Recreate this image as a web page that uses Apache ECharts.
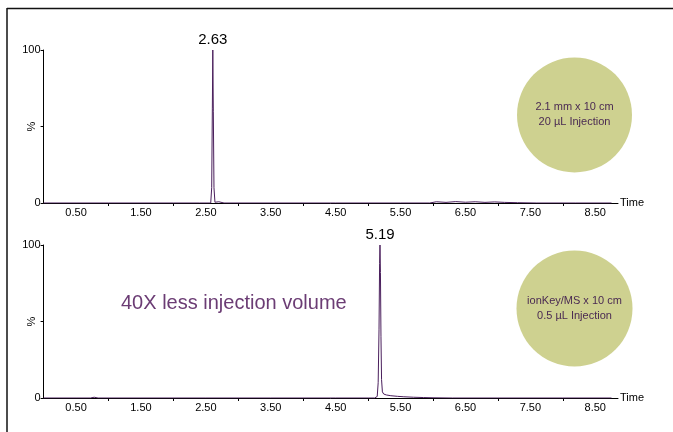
<!DOCTYPE html>
<html><head><meta charset="utf-8">
<script src="https://cdn.jsdelivr.net/npm/echarts@6/dist/echarts.min.js"></script>
<style>html,body{margin:0;padding:0;background:#fff}#c{width:673px;height:432px}</style>
</head><body><div id="c"></div>
<script>
// Top trace: 2.1 mm x 10 cm, 20 µL injection  [time, %]
const topTime = [0, 0.5, 1.0, 1.5, 2.0, 2.4, 2.575, 2.59, 2.60, 2.607, 2.615, 2.625, 2.64, 2.67, 2.70, 2.73, 2.78, 3.5, 4.5, 5.5, 5.95, 6.05, 6.2, 6.35, 6.5, 6.65, 6.8, 6.95, 7.1, 7.3, 7.6, 8.2, 8.75];
const topPct  = [0, 0, 0, 0, 0, 0, 0, 10, 62, 100, 60, 10, 0.5, 0.3, 0.8, 0.3, 0, 0, 0, 0, 0, 0.8, 0.4, 0.9, 0.5, 0.8, 0.4, 0.7, 0.4, 0.2, 0, 0, 0];
// Bottom trace: ionKey/MS x 10 cm, 0.5 µL injection
const botTime = [0, 0.5, 0.72, 0.78, 0.84, 1.5, 2.5, 3.5, 4.5, 5.0, 5.10, 5.14, 5.155, 5.168, 5.177, 5.183, 5.19, 5.198, 5.207, 5.22, 5.24, 5.28, 5.35, 5.45, 5.55, 5.7, 5.85, 6.0, 6.3, 7.0, 8.0, 8.75];
const botPct  = [0, 0, 0, 0.5, 0, 0, 0, 0, 0, 0, 0, 1, 10, 45, 88, 100, 82, 40, 12, 4, 2.6, 2, 1.5, 1.1, 0.8, 0.5, 0.3, 0.15, 0, 0, 0, 0];
const peakLabels = ['2.63', '5.19'];
const panelCaptions = [['2.1 mm x 10 cm', '20 µL Injection'], ['ionKey/MS x 10 cm', '0.5 µL Injection']];
const noteText = '40X less injection volume';
const xLabelValues = [0.5, 1.5, 2.5, 3.5, 4.5, 5.5, 6.5, 7.5, 8.5];
const xTickValues = [1, 2, 3, 4, 5, 6, 7, 8];
const yTickValues = [0, 50, 100];

const traceColor = '#4a1f5c';
const font = 'Liberation Sans, Arial, sans-serif';

function makeData(t, v, labelText) {
  let peakIdx = v.indexOf(Math.max(...v));
  return t.map((x, i) => {
    if (i === peakIdx) {
      return { value: [x, v[i]], label: { show: true, formatter: labelText, position: 'top', distance: 3,
        fontSize: 15, color: '#000', fontFamily: font } };
    }
    return [x, v[i]];
  });
}

const grids = [
  { left: 43.6, right: 55, top: 50, height: 153, outerBoundsMode: 'none', containLabel: false },
  { left: 43.6, right: 55, top: 245, height: 153, outerBoundsMode: 'none', containLabel: false }
];
function xAxis(i) {
  return {
    type: 'value', gridIndex: i, min: 0, max: 8.85,
    name: 'Time', nameLocation: 'end', nameGap: 2, nameMoveOverlap: false,
    nameTextStyle: { fontSize: 11, color: '#000', fontFamily: font, verticalAlign: 'middle' },
    axisLine: { show: true, lineStyle: { color: '#000', width: 1 } },
    axisTick: { show: true, customValues: xTickValues, length: 3, lineStyle: { color: '#000' } },
    axisLabel: { show: true, customValues: xLabelValues, margin: 4, fontSize: 11, color: '#000', fontFamily: font,
      formatter: v => v.toFixed(2) },
    splitLine: { show: false }
  };
}
function yAxis(i) {
  return {
    type: 'value', gridIndex: i, min: 0, max: 100,
    name: '%', nameLocation: 'middle', nameGap: 6, nameMoveOverlap: false,
    nameTextStyle: { fontSize: 11, color: '#000', fontFamily: font },
    axisLine: { show: true, lineStyle: { color: '#000', width: 1 } },
    axisTick: { show: true, customValues: yTickValues, length: 3, lineStyle: { color: '#000' } },
    axisLabel: { show: true, customValues: [0, 100], margin: 3, fontSize: 11, color: '#000', fontFamily: font },
    splitLine: { show: false }
  };
}

const circleColor = '#ced190';
const captionColor = '#4a2a52';
function circleGroup(cx, cy, r, lines) {
  return [
    { type: 'circle', shape: { cx: cx, cy: cy, r: r }, style: { fill: circleColor }, z: 1 },
    { type: 'text', x: cx, y: cy - 8, style: { text: lines[0], fill: captionColor, font: '11px ' + font, textAlign: 'center', textVerticalAlign: 'middle' }, z: 2 },
    { type: 'text', x: cx, y: cy + 7, style: { text: lines[1], fill: captionColor, font: '11px ' + font, textAlign: 'center', textVerticalAlign: 'middle' }, z: 2 }
  ];
}

const chart = echarts.init(document.getElementById('c'), null, { renderer: 'canvas' });
chart.setOption({
  animation: false,
  backgroundColor: '#fff',
  grid: grids,
  xAxis: [xAxis(0), xAxis(1)],
  yAxis: [yAxis(0), yAxis(1)],
  series: [
    { type: 'line', xAxisIndex: 0, yAxisIndex: 0, data: makeData(topTime, topPct, peakLabels[0]), showSymbol: true, showAllSymbol: true,
      symbol: 'circle', symbolSize: 0.01, itemStyle: { color: traceColor }, labelLayout: { hideOverlap: false },
      lineStyle: { color: traceColor, width: 1 }, z: 3 },
    { type: 'line', xAxisIndex: 1, yAxisIndex: 1, data: makeData(botTime, botPct, peakLabels[1]), showSymbol: true, showAllSymbol: true,
      symbol: 'circle', symbolSize: 0.01, itemStyle: { color: traceColor }, labelLayout: { hideOverlap: false },
      lineStyle: { color: traceColor, width: 1 }, z: 3 }
  ],
  graphic: [
    { type: 'line', shape: { x1: 7, y1: 8.5, x2: 673, y2: 8.5 }, style: { stroke: '#111', lineWidth: 1.5 } },
    { type: 'line', shape: { x1: 7, y1: 8, x2: 7, y2: 432 }, style: { stroke: '#111', lineWidth: 1.5 } },
    ...circleGroup(574.5, 115, 57.5, panelCaptions[0]),
    ...circleGroup(574.5, 308.5, 58, panelCaptions[1]),
    { type: 'text', x: 121, y: 303, style: { text: noteText, fill: '#6b3c74', font: '20px ' + font, textAlign: 'left', textVerticalAlign: 'middle' } }
  ]
});
</script>
</body></html>
